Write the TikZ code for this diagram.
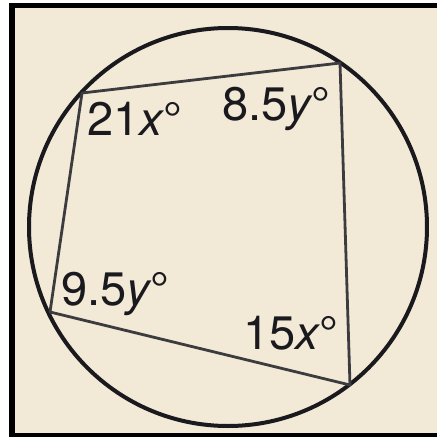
\documentclass[tikz,border=0pt]{standalone}
\usepackage{fontspec}
\setmainfont{TeX Gyre Heros}
\definecolor{bg}{RGB}{242,234,214}
\definecolor{ink}{RGB}{25,25,30}
\begin{document}
\begin{tikzpicture}[x=1pt,y=-1pt,
  lab/.style={font=\fontsize{47}{47}\selectfont, text=ink, inner sep=0pt, anchor=base west},
  side/.style={draw=ink!85, line width=2.8pt, line join=round},
  rim/.style={draw=ink, line width=4pt}]
\useasboundingbox (0,0) rectangle (437,437);
\fill[white] (0,0) rectangle (437,437);
\fill[bg] (15,8) rectangle (437,433);
\fill[black] (9,3) rectangle (437,8);
\fill[black] (9,3) rectangle (15,437);
\fill[black] (9,433) rectangle (437,437);
\coordinate (O) at (228,227);
\draw[rim] (O) circle (199);
\coordinate (TL) at (82,93);
\coordinate (TR) at (340,63);
\coordinate (BR) at (350,385);
\coordinate (BL) at (50,312);
\draw[side] (TL) -- (TR) -- (BR) -- (BL) -- cycle;
\node[lab] (a) at (87,135) {21\textit{x}\kern-1pt°};
\node[lab] (b) at (222,120) {8.5\textit{y}\kern-1pt°};
\node[lab] (c) at (61,305) {9.5\textit{y}\kern-1pt°};
\node[lab] (d) at (243,349) {15\textit{x}\kern-1pt°};
\end{tikzpicture}
\end{document}
